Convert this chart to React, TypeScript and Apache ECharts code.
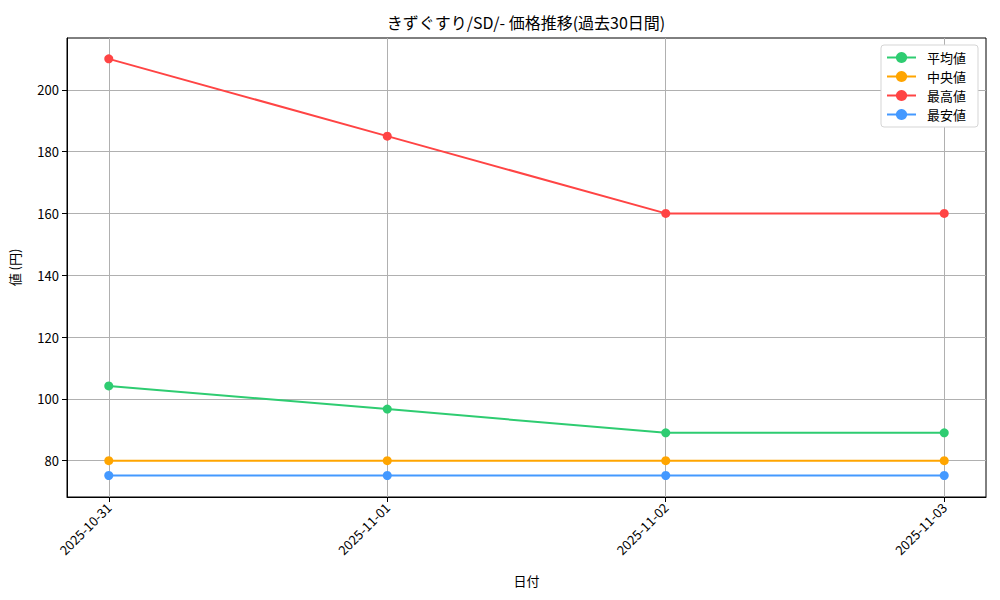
import {useEffect, useRef} from 'react';
import * as echarts from 'echarts';

const dates = ['2025-10-31', '2025-11-01', '2025-11-02', '2025-11-03'];
const avgValues = [104.2, 96.7, 89.0, 89.0];
const medianValues = [80, 80, 80, 80];
const maxValues = [210, 185, 160, 160];
const minValues = [75.2, 75.2, 75.2, 75.2];
const yTicks = [80, 100, 120, 140, 160, 180, 200];

const FONT = '"Noto Sans CJK JP", sans-serif';

const toPoints = (vals: number[]) => vals.map((v, i) => [i, v]);

export default function App() {
    const chartRef = useRef<HTMLDivElement | null>(null);

    useEffect(() => {
        document.body.style.margin = '0';
        const el = chartRef.current;
        if (!el) return;
        const chart = echarts.init(el, null, {renderer: 'svg'});

        const line = (name: string, color: string, vals: number[]) => ({
            name,
            type: 'line',
            data: toPoints(vals),
            symbol: 'circle',
            symbolSize: 9,
            lineStyle: {color, width: 2},
            itemStyle: {color},
            z: 3,
        });

        chart.setOption({
            animation: false,
            textStyle: {fontFamily: FONT},
            graphic: [
                {
                    type: 'text',
                    x: 526,
                    y: 22,
                    style: {
                        text: 'きずぐすり/SD/- 価格推移(過去30日間)',
                        fontFamily: FONT,
                        fontSize: 16,
                        fill: '#000',
                        textAlign: 'center',
                        textVerticalAlign: 'middle',
                    },
                },
            ],
            grid: {
                left: 66,
                right: 14,
                top: 38,
                bottom: 103,
                show: true,
                borderColor: '#000',
                borderWidth: 1,
                containLabel: false,
            },
            legend: {
                orient: 'vertical',
                right: 22,
                top: 45,
                padding: [6, 12, 6, 5],
                itemGap: 6,
                itemWidth: 29,
                itemHeight: 14,
                backgroundColor: '#fff',
                borderColor: '#d5d5d5',
                borderWidth: 1,
                borderRadius: 3,
                textStyle: {fontSize: 13, color: '#000', fontFamily: FONT, padding: [0, 0, 0, 6]},
                data: ['平均値', '中央値', '最高値', '最安値'],
            },
            xAxis: {
                type: 'value',
                min: -0.15,
                max: 3.15,
                name: '日付',
                nameLocation: 'middle',
                nameGap: 77,
                nameTextStyle: {fontSize: 13, color: '#000'},
                axisLine: {onZero: false, lineStyle: {color: '#000', width: 1}},
                axisTick: {show: true, length: 5, customValues: [0, 1, 2, 3], lineStyle: {color: '#000'}},
                axisLabel: {
                    customValues: [0, 1, 2, 3],
                    formatter: (v: number) => dates[Math.round(v)],
                    rotate: 45,
                    fontSize: 13,
                    color: '#000',
                    margin: 8,
                },
                splitLine: {show: true, lineStyle: {color: '#b0b0b0', width: 1}},
            },
            yAxis: {
                type: 'value',
                min: 68.25,
                max: 216.75,
                name: '値 (円)',
                nameLocation: 'middle',
                nameGap: 46,
                nameTextStyle: {fontSize: 13, color: '#000'},
                axisLine: {show: true, onZero: false, lineStyle: {color: '#000', width: 1}},
                axisTick: {show: true, length: 5, customValues: yTicks, lineStyle: {color: '#000'}},
                axisLabel: {customValues: yTicks, fontSize: 13, color: '#000', margin: 8},
                splitLine: {show: true, lineStyle: {color: '#b0b0b0', width: 1}},
            },
            series: [
                line('平均値', '#2ECC71', avgValues),
                line('中央値', '#FFA500', medianValues),
                line('最高値', '#FF4444', maxValues),
                line('最安値', '#4499FF', minValues),
            ],
        });

        return () => {
            chart.dispose();
        };
    }, []);

    return <div ref={chartRef} style={{width: '1000px', height: '600px'}}/>;
}
